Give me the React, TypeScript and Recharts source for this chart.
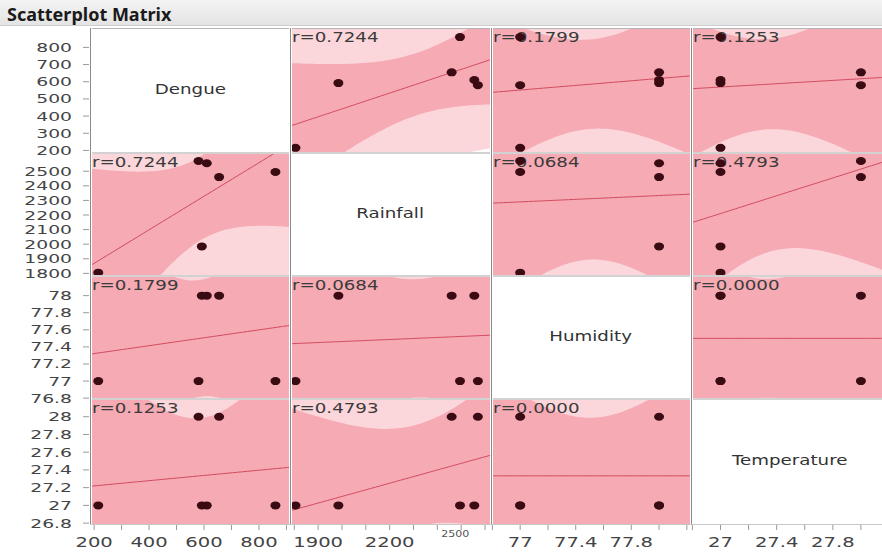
import React from "react";
import { ComposedChart, Area, Line, Scatter, XAxis, YAxis } from "recharts";

const variables = ["Dengue", "Rainfall", "Humidity", "Temperature"];
const dengue = [215, 580, 610, 655, 592, 860];
const rainfall = [1805, 2570, 2555, 2460, 1985, 2495];
const humidity = [77, 77, 78, 78, 78, 77];
const temperature = [27, 28, 27, 28, 27, 27];

// correlation labels as printed in each cell
const rLabels = [
  ["", "r=0.7244", "r=0.1799", "r=0.1253"],
  ["r=0.7244", "", "r=0.0684", "r=0.4793"],
  ["r=0.1799", "r=0.0684", "", "r=0.0000"],
  ["r=0.1253", "r=0.4793", "r=0.0000", ""],
];

// axis ranges and ticks per variable
const domains: [number, number][] = [
  [185, 913],
  [1782, 2625],
  [76.79, 78.23],
  [26.79, 28.2],
];
const yTicks = [
  [200, 300, 400, 500, 600, 700, 800],
  [1800, 1900, 2000, 2100, 2200, 2300, 2400, 2500],
  [76.8, 77, 77.2, 77.4, 77.6, 77.8, 78],
  [26.8, 27, 27.2, 27.4, 27.6, 27.8, 28],
];
const xTicks = [
  [200, 300, 400, 500, 600, 700, 800, 900],
  [1800, 1900, 2000, 2100, 2200, 2300, 2400, 2500, 2600],
  [76.8, 77, 77.2, 77.4, 77.6, 77.8, 78, 78.2],
  [26.8, 27, 27.2, 27.4, 27.6, 27.8, 28, 28.2],
];
const xLabels = [
  [200, 400, 600, 800],
  [1900, 2200, 2500],
  [77, 77.4, 77.8],
  [27, 27.4, 27.8],
];

const series = [dengue, rainfall, humidity, temperature];

const colEdges = [90, 290, 491, 691, 889];
const rowEdges = [28, 153, 276, 399, 524];
const AXIS_W = 90;
const AXIS_H = 32;

const DARK_PINK = "#f5aab4";
const LIGHT_PINK = "#fbd6db";
const FIT_RED = "#d24a5f";
const DOT = "#3a0b12";
const FONT = "'DejaVu Sans', Verdana, sans-serif";

const fmt = (v: number) => String(Number(v.toFixed(1)));

// least squares fit with 95% confidence (mean) and prediction curves
function fitBands(xs: number[], ys: number[], domain: [number, number]) {
  const n = xs.length;
  const mx = xs.reduce((a, b) => a + b, 0) / n;
  const my = ys.reduce((a, b) => a + b, 0) / n;
  let sxx = 0, sxy = 0, syy = 0;
  xs.forEach((x, i) => {
    sxx += (x - mx) ** 2;
    sxy += (x - mx) * (ys[i] - my);
    syy += (ys[i] - my) ** 2;
  });
  const b = sxy / sxx;
  const a = my - b * mx;
  const s = Math.sqrt((syy - b * sxy) / (n - 2));
  const t = 2.7764; // t(0.975, df=4)
  const out = [];
  const steps = 80;
  for (let i = 0; i <= steps; i++) {
    const x = domain[0] + ((domain[1] - domain[0]) * i) / steps;
    const fit = a + b * x;
    const h2 = 1 / n + (x - mx) ** 2 / sxx;
    const ci = t * s * Math.sqrt(h2);
    const pi = t * s * Math.sqrt(1 + h2);
    out.push({ x, fit, ci: [fit - ci, fit + ci], pi: [fit - pi, fit + pi] });
  }
  return out;
}

const YTick = (props: any) => {
  const { x, y, payload } = props;
  return (
    <g transform={`translate(${x},${y})`}>
      <text transform="scale(1.5,1)" textAnchor="end" dy="0.36em" fontSize={12.5} fill="#444" fontFamily={FONT}>
        {fmt(payload.value)}
      </text>
    </g>
  );
};

const makeXTick = (col: number) => (props: any) => {
  const { x, y, payload } = props;
  if (!xLabels[col].includes(payload.value)) return <g />;
  // the 2500 label is squashed/raised in the original
  if (col === 1 && payload.value === 2500) {
    return (
      <g transform={`translate(${x - 6},${y - 3})`}>
        <text transform="scale(1.3,1)" textAnchor="middle" dy="0.35em" fontSize={8.5} fill="#555" fontFamily={FONT}>
          {fmt(payload.value)}
        </text>
      </g>
    );
  }
  return (
    <g transform={`translate(${x},${y})`}>
      <text transform="scale(1.45,1)" textAnchor="middle" dy="0.75em" fontSize={13.5} fill="#444" fontFamily={FONT}>
        {fmt(payload.value)}
      </text>
    </g>
  );
};

const dotShape = (props: any) => (
  <ellipse cx={props.cx} cy={props.cy} rx={5} ry={4} fill={DOT} />
);

const MatrixCell = ({ row, col }: { row: number; col: number }) => {
  const left = colEdges[col];
  const top = rowEdges[row];
  const w = colEdges[col + 1] - left;
  const h = rowEdges[row + 1] - top;
  const axisW = col === 0 ? AXIS_W : 0;
  const axisH = row === 3 ? AXIS_H : 0;
  const diag = row === col;
  const xs = series[col];
  const ys = series[row];
  const points = xs.map((v, i) => ({ x: v, y: ys[i] }));
  const bands = diag ? [] : fitBands(xs, ys, domains[col]);
  const W = w + axisW;
  const H = h + axisH;

  return (
    <div style={{ position: "absolute", left: left - axisW, top, width: W, height: H }}>
      <div style={{ position: "absolute", left: 0, top: 0 }}>
        <ComposedChart width={W} height={H} data={bands} margin={{ top: 0, right: 0, bottom: 0, left: 0 }}>
          <XAxis
            dataKey="x"
            type="number"
            domain={domains[col]}
            allowDataOverflow
            hide={row !== 3}
            ticks={xTicks[col]}
            interval={0}
            height={AXIS_H}
            tickSize={6}
            tickMargin={7}
            tick={makeXTick(col)}
            tickLine={{ stroke: "#999" }}
            axisLine={false}
          />
          <YAxis
            dataKey="y"
            type="number"
            domain={domains[row]}
            allowDataOverflow
            hide={col !== 0}
            ticks={yTicks[row]}
            interval={0}
            width={AXIS_W}
            tickSize={7}
            tickMargin={11}
            tick={YTick}
            tickLine={{ stroke: "#999" }}
            axisLine={false}
          />
          {!diag && (
            <Area type="monotone" dataKey="pi" fill={LIGHT_PINK} fillOpacity={1} stroke="none" isAnimationActive={false} />
          )}
          {!diag && (
            <Area type="monotone" dataKey="ci" fill={DARK_PINK} fillOpacity={1} stroke="none" isAnimationActive={false} />
          )}
          {!diag && (
            <Line type="linear" dataKey="fit" stroke={FIT_RED} strokeWidth={1} dot={false} isAnimationActive={false} />
          )}
          {diag && <Scatter data={points} shape={() => <g />} isAnimationActive={false} />}
        </ComposedChart>
      </div>

      {diag ? (
        <div
          style={{
            position: "absolute",
            left: axisW,
            top: 0,
            width: w,
            height: h - 4,
            display: "flex",
            alignItems: "center",
            justifyContent: "center",
          }}
        >
          <span style={{ fontFamily: FONT, fontSize: 13.5, color: "#333", transform: "scaleX(1.35)" }}>
            {variables[row]}
          </span>
        </div>
      ) : (
        <div
          style={{
            position: "absolute",
            left: axisW + 2,
            top: 1,
            fontFamily: FONT,
            fontSize: 13.5,
            color: "#3a3a3a",
            whiteSpace: "nowrap",
            transform: "scaleX(1.35)",
            transformOrigin: "left top",
          }}
        >
          {rLabels[row][col]}
        </div>
      )}

      {!diag && (
        <div style={{ position: "absolute", left: 0, top: 0 }}>
          <ComposedChart width={W} height={H} margin={{ top: 0, right: 0, bottom: axisH, left: axisW }}>
            <XAxis dataKey="x" type="number" domain={domains[col]} allowDataOverflow hide />
            <YAxis dataKey="y" type="number" domain={domains[row]} allowDataOverflow hide />
            <Scatter data={points} shape={dotShape} isAnimationActive={false} />
          </ComposedChart>
        </div>
      )}
    </div>
  );
};

const App: React.FC = () => {
  const cells = [];
  for (let r = 0; r < 4; r++) {
    for (let c = 0; c < 4; c++) cells.push(<MatrixCell key={`${r}-${c}`} row={r} col={c} />);
  }
  const gridTop = rowEdges[0];
  const gridBottom = rowEdges[4];

  return (
    <div style={{ position: "absolute", left: 0, top: 0, width: 882, height: 556, overflow: "hidden", background: "#fff" }}>
      <style>{`.recharts-surface { overflow: visible; }`}</style>
      <div
        style={{
          position: "absolute",
          left: 0,
          top: 0,
          width: 882,
          height: 25,
          background: "linear-gradient(#f3f3f3, #e4e4e4)",
          borderBottom: "1px solid #cdcdcd",
        }}
      >
        <span
          style={{
            position: "absolute",
            left: 7,
            top: 2,
            fontFamily: "'Noto Sans', 'Open Sans', sans-serif",
            fontWeight: 700,
            fontSize: 18,
            lineHeight: "24px",
            color: "#1a1a1a",
          }}
        >
          Scatterplot Matrix
        </span>
      </div>

      {cells}

      {/* cell separators */}
      {rowEdges.slice(1, 4).map((y) => (
        <div key={`h${y}`} style={{ position: "absolute", left: colEdges[0], top: y - 1, width: 882 - colEdges[0], height: 2, background: "#d2d2d2" }} />
      ))}
      <div style={{ position: "absolute", left: colEdges[0], top: gridTop, width: 882 - colEdges[0], height: 1, background: "#b5b5b5" }} />
      <div style={{ position: "absolute", left: colEdges[0], top: gridBottom, width: 882 - colEdges[0], height: 1, background: "#c8c8c8" }} />
      {colEdges.slice(0, 4).map((x) => (
        <div key={`v${x}`} style={{ position: "absolute", left: x - 1, top: gridTop, width: 3, height: gridBottom - gridTop, background: "#fff" }}>
          <div style={{ position: "absolute", left: 1, top: 0, width: 1, height: "100%", background: "#8a8a8a" }} />
        </div>
      ))}
    </div>
  );
};

export default App;
